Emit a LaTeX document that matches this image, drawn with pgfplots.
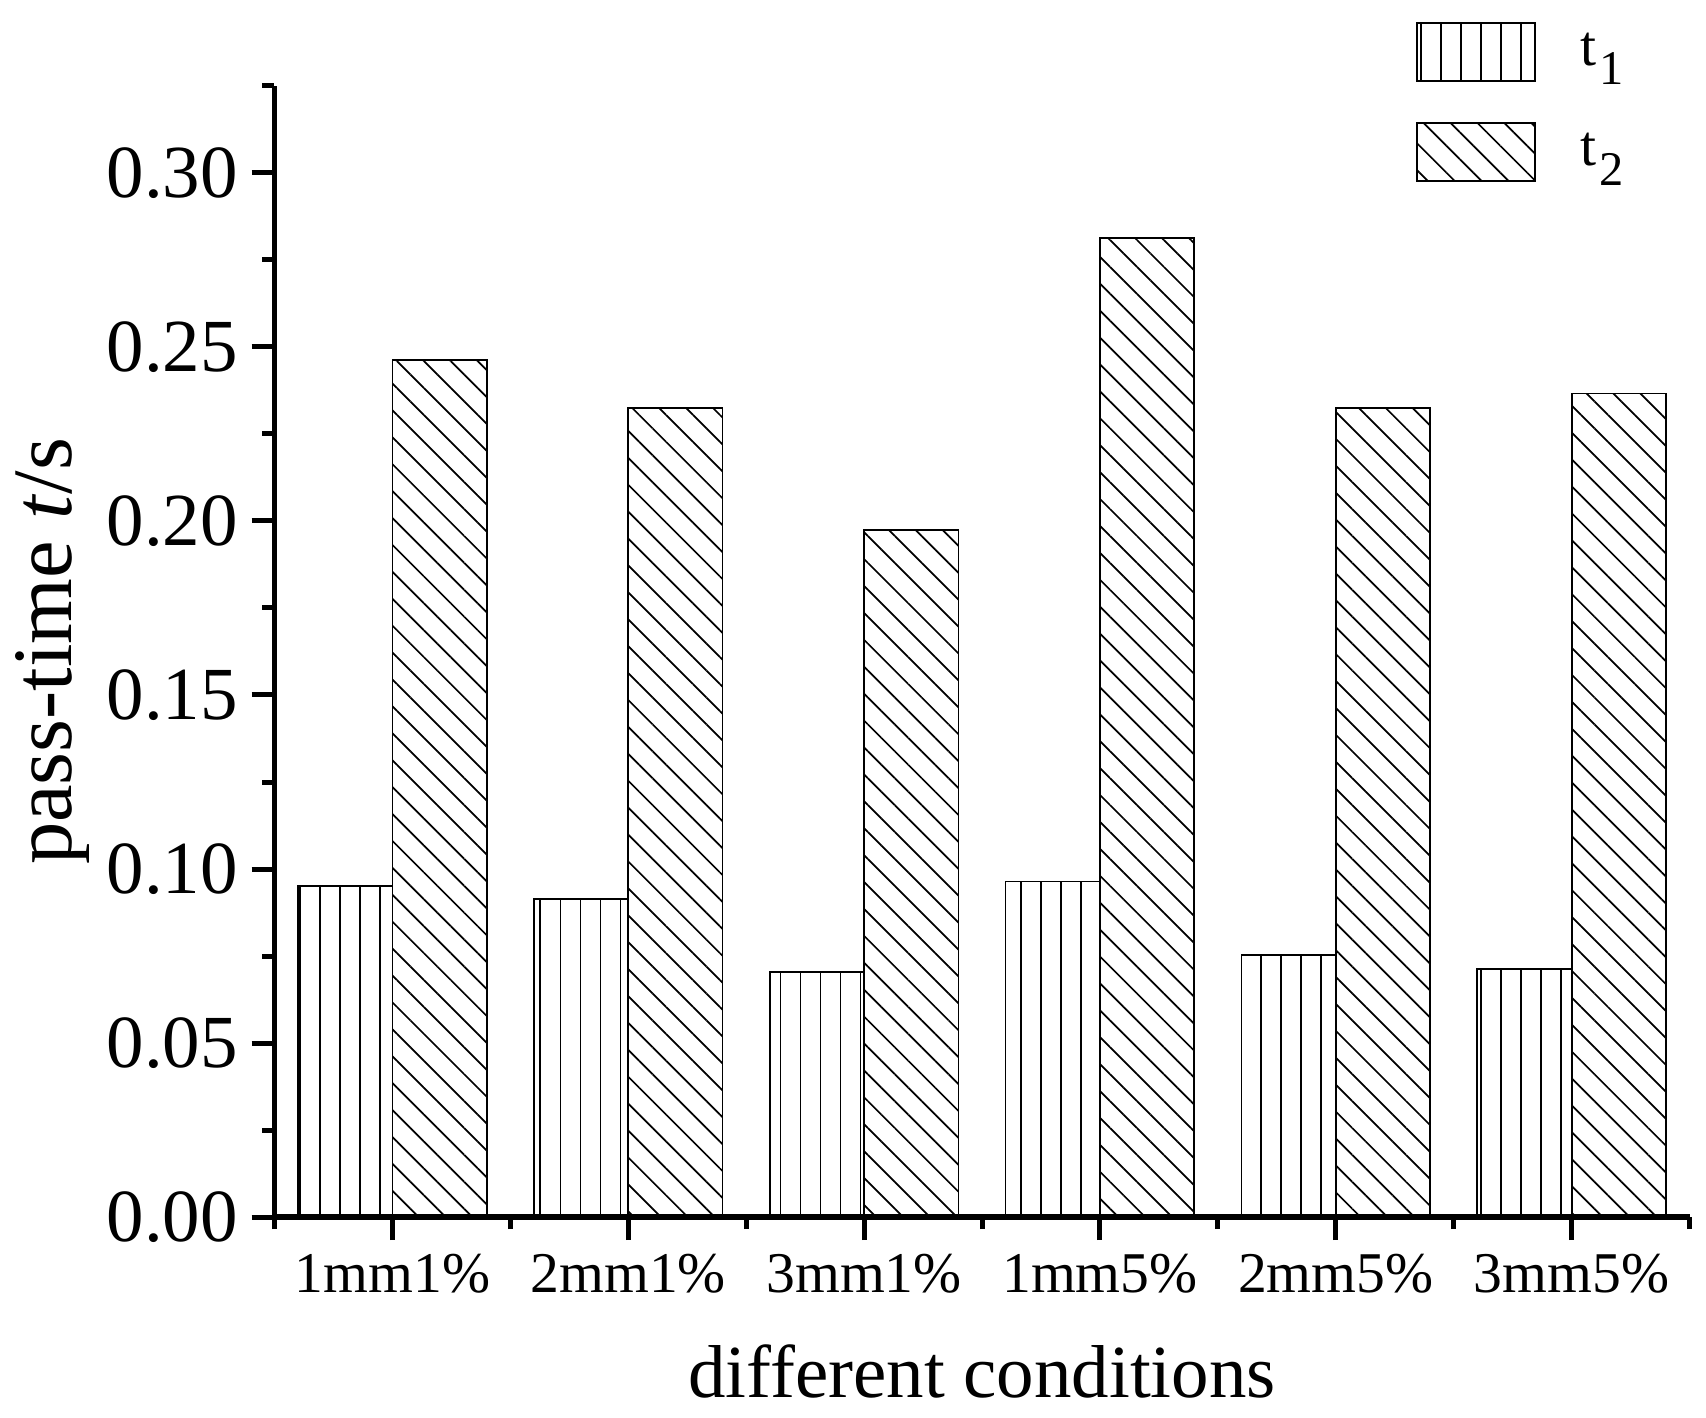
\documentclass[border=0pt]{standalone}
\usepackage{fontspec}
\setmainfont{Liberation Serif}
\usepackage{pgfplots}
\pgfplotsset{compat=1.18}
\usetikzlibrary{patterns.meta}

\pgfplotsset{
  boxlegend/.style={legend image code/.code={
    \draw[##1,line width=0.45pt] (0mm,-2.65mm) rectangle (10.8mm,2.65mm);}},
}
\newcommand{\tsub}[1]{t\hspace{0.25mm}\raisebox{-1.8mm}{\fontsize{12.6}{12.6}\selectfont #1}}

\begin{document}
\begin{tikzpicture}
\useasboundingbox (-25.1mm,-18.3mm) rectangle (130.9mm,111.3mm);
\begin{axis}[
  scale only axis,
  width=129.4mm, height=103.46mm,
  xmin=0.5, xmax=6.5,
  ymin=0, ymax=0.325,
  axis lines*=left,
  axis line style={-, line width=1.4pt},
  tick align=outside,
  major tick length=2.1mm,
  minor tick length=1.1mm,
  every tick/.style={black, line width=1.3pt},
  xtick={1,2,3,4,5,6},
  xticklabels={1mm1\%,2mm1\%,3mm1\%,1mm5\%,2mm5\%,3mm5\%},
  minor xtick={0.5,1.5,2.5,3.5,4.5,5.5,6.5},
  ytick={0,0.05,0.1,0.15,0.2,0.25,0.3},
  minor ytick={0.025,0.075,0.125,0.175,0.225,0.275,0.325},
  yticklabel style={font=\fontsize{19.5}{19.5}\selectfont,
    /pgf/number format/fixed, /pgf/number format/fixed zerofill,
    /pgf/number format/precision=2, /pgf/number format/assume math mode=true},
  xticklabel style={font=\fontsize{15}{15}\selectfont},
  xlabel={different conditions},
  ylabel={pass-time \textit{t}/s},
  xlabel style={font=\fontsize{19.5}{19.5}\selectfont, at={(axis description cs:0.5,0)}, anchor=base, yshift=-16.5mm},
  ylabel style={font=\fontsize{22}{22}\selectfont, at={(axis description cs:-0.157,0.5)}, anchor=center},
  legend style={draw=none, fill=none, at={(0.806,1.057)}, anchor=north west,
    font=\fontsize{15}{15}\selectfont, inner sep=0pt, row sep=3.7mm,
    /tikz/every odd column/.append style={column sep=3.4mm}},
  legend cell align=left,
]
\addplot[ybar, bar width=0.4, bar shift=-0.2, draw=black, line width=0.45pt,
  pattern={Lines[angle=90,distance=1.83mm,line width=0.45pt]}, boxlegend]
  coordinates {(1,0.0952)(2,0.0914)(3,0.0704)(4,0.0964)(5,0.0754)(6,0.0713)};
\addlegendentry{\tsub{1}}
\addplot[ybar, bar width=0.4, bar shift=0.2, draw=black, line width=0.45pt,
  pattern={Lines[angle=-45,distance=1.74mm,line width=0.45pt]}, boxlegend]
  coordinates {(1,0.2463)(2,0.2325)(3,0.1973)(4,0.2812)(5,0.2325)(6,0.2366)};
\addlegendentry{\tsub{2}}
\end{axis}
\end{tikzpicture}
\end{document}
